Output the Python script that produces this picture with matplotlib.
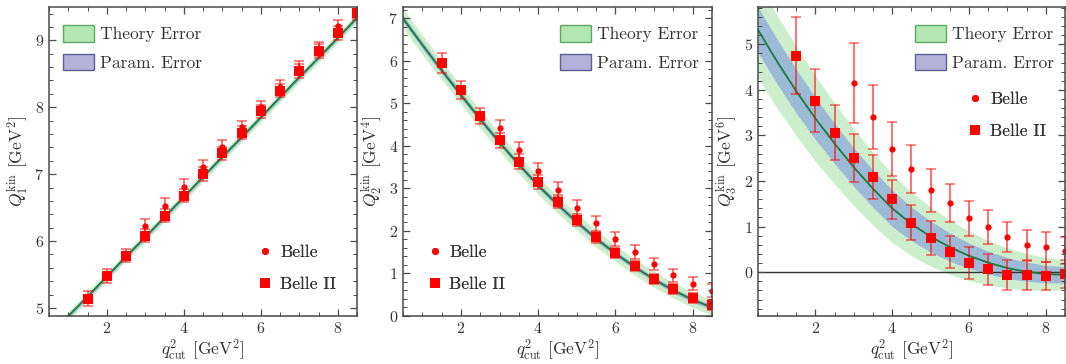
import numpy as np
import matplotlib
matplotlib.use("Agg")
import matplotlib.pyplot as plt
from matplotlib.patches import Patch
from matplotlib.lines import Line2D
from matplotlib.ticker import MultipleLocator

plt.rcParams['font.family'] = 'cmr10'
plt.rcParams['mathtext.fontset'] = 'cm'
plt.rcParams['axes.unicode_minus'] = False
plt.rcParams['axes.formatter.use_mathtext'] = True

# q2 cut values
x_theory = [0.5, 1.0, 1.5, 2.0, 2.5, 3.0, 3.5, 4.0, 4.5, 5.0, 5.5, 6.0, 6.5, 7.0, 7.5, 8.0, 8.5]
x_belle2 = [1.5, 2.0, 2.5, 3.0, 3.5, 4.0, 4.5, 5.0, 5.5, 6.0, 6.5, 7.0, 7.5, 8.0, 8.5]
x_belle = [3.0, 3.5, 4.0, 4.5, 5.0, 5.5, 6.0, 6.5, 7.0, 7.5, 8.0, 8.5]

#%% Q1
q1_th = [4.58, 4.88, 5.17, 5.47, 5.77, 6.06, 6.36, 6.66, 6.96, 7.26, 7.55, 7.85, 8.15, 8.45, 8.74, 9.04, 9.34]
q1_th_err = [0.07] * 17
q1_par_err = [0.03] * 17
q1_belle2 = [5.14, 5.48, 5.78, 6.08, 6.38, 6.68, 7.00, 7.31, 7.62, 7.94, 8.25, 8.54, 8.84, 9.11, 9.41]
q1_belle2_err = [0.11, 0.10, 0.10, 0.10, 0.10, 0.10, 0.10, 0.10, 0.10, 0.10, 0.10, 0.10, 0.10, 0.10, 0.10]
q1_belle = [6.22, 6.53, 6.81, 7.11, 7.41, 7.70, 8.00, 8.30, 8.59, 8.87, 9.21, 9.43]
q1_belle_err = [0.11, 0.11, 0.11, 0.10, 0.10, 0.10, 0.10, 0.10, 0.10, 0.10, 0.10, 0.10]

#%% Q2
q2_th = [7.00, 6.38, 5.78, 5.20, 4.63, 4.08, 3.56, 3.07, 2.62, 2.21, 1.82, 1.47, 1.15, 0.86, 0.60, 0.38, 0.20]
q2_th_err = [0.23, 0.23, 0.22, 0.22, 0.22, 0.21, 0.21, 0.21, 0.20, 0.20, 0.20, 0.19, 0.19, 0.19, 0.18, 0.18, 0.18]
q2_par_err = [0.08, 0.08, 0.08, 0.08, 0.08, 0.07, 0.07, 0.07, 0.07, 0.07, 0.07, 0.06, 0.06, 0.06, 0.06, 0.06, 0.06]
q2_belle2 = [5.95, 5.31, 4.70, 4.13, 3.63, 3.15, 2.69, 2.26, 1.85, 1.48, 1.17, 0.87, 0.63, 0.42, 0.26]
q2_belle2_err = [0.24, 0.21, 0.19, 0.18, 0.17, 0.16, 0.15, 0.14, 0.13, 0.12, 0.12, 0.11, 0.11, 0.11, 0.11]
q2_belle = [4.43, 3.91, 3.41, 2.97, 2.54, 2.18, 1.81, 1.51, 1.22, 0.96, 0.76, 0.59]
q2_belle_err = [0.19, 0.19, 0.19, 0.18, 0.18, 0.17, 0.17, 0.16, 0.15, 0.15, 0.15, 0.15]

#%% Q3
q3_th = [5.32, 4.62, 3.97, 3.37, 2.82, 2.30, 1.83, 1.40, 1.06, 0.78, 0.55, 0.36, 0.21, 0.09, 0.01, -0.04, -0.06]
q3_th_err = [1.05, 1.02, 0.98, 0.94, 0.89, 0.84, 0.80, 0.75, 0.70, 0.65, 0.60, 0.54, 0.49, 0.44, 0.40, 0.36, 0.33]
q3_par_err = [0.50, 0.49, 0.48, 0.46, 0.44, 0.42, 0.41, 0.40, 0.37, 0.34, 0.31, 0.28, 0.25, 0.23, 0.21, 0.19, 0.18]
q3_belle2 = [4.75, 3.76, 3.06, 2.51, 2.09, 1.60, 1.09, 0.75, 0.45, 0.20, 0.07, -0.06, -0.07, -0.08, -0.04]
q3_belle2_err = [0.84, 0.69, 0.60, 0.53, 0.49, 0.43, 0.38, 0.37, 0.35, 0.35, 0.34, 0.33, 0.32, 0.30, 0.30]
q3_belle = [4.15, 3.41, 2.70, 2.26, 1.80, 1.52, 1.18, 0.99, 0.77, 0.60, 0.55, 0.47]
q3_belle_err = [0.87, 0.70, 0.60, 0.52, 0.47, 0.42, 0.39, 0.37, 0.33, 0.33, 0.33, 0.30]

GREEN_BAND = (0.50, 0.84, 0.50, 0.40)
BLUE_BAND = (0.44, 0.55, 0.88, 0.52)
LINE_GREEN = '#1c7a3c'
RED = '#ff0000'
FRAME = '#4a4a4a'


def draw_panel(ax, th, th_err, par_err, b2, b2_err, b1, b1_err):
    xt = np.array(x_theory)
    th = np.array(th)
    ax.fill_between(xt, th - np.array(th_err), th + np.array(th_err), color=GREEN_BAND, lw=0)
    ax.fill_between(xt, th - np.array(par_err), th + np.array(par_err), color=BLUE_BAND, lw=0)
    ax.plot(xt, th, color=LINE_GREEN, lw=1.3)

    ax.errorbar(x_belle, b1, yerr=b1_err, fmt='none', ecolor=(1, 0, 0, 0.6),
                elinewidth=1.3, capsize=3.5, capthick=1.1)
    ax.errorbar(x_belle2, b2, yerr=b2_err, fmt='none', ecolor=(1, 0, 0, 0.6),
                elinewidth=1.3, capsize=3.5, capthick=1.1)
    ax.plot(x_belle, b1, 'o', color=RED, ms=4.5, mew=0)
    ax.plot(x_belle2, b2, 's', color=RED, ms=7, mew=0)

    ax.set_xlim(0.5, 8.5)
    ax.xaxis.set_major_locator(MultipleLocator(2))
    ax.xaxis.set_minor_locator(MultipleLocator(0.5))
    ax.yaxis.set_major_locator(MultipleLocator(1))
    ax.yaxis.set_minor_locator(MultipleLocator(0.2))
    ax.tick_params(which='both', direction='in', top=True, right=True,
                   color=FRAME, labelcolor='#333333', labelsize=11.5)
    ax.tick_params(which='major', length=5, width=0.9)
    ax.tick_params(which='minor', length=3, width=0.7)
    for s in ax.spines.values():
        s.set_color(FRAME)
        s.set_linewidth(1.1)
    ax.set_xlabel(r'$q^2_{\mathrm{cut}}$ [GeV$^2$]', fontsize=12.5, color='#333333', labelpad=1)


def error_legend(ax, x, y):
    handles = [Patch(facecolor='#b3e6b3', edgecolor='#5fa85f', lw=1.0),
               Patch(facecolor='#b1b3d9', edgecolor='#5c5e94', lw=1.0)]
    leg = ax.legend(handles, ['Theory Error', 'Param. Error'], loc='upper left',
                    bbox_to_anchor=(x, y), frameon=False, fontsize=12.5,
                    handlelength=1.8, handleheight=1.05, handletextpad=0.35,
                    labelspacing=0.65, borderpad=0, borderaxespad=0)
    for t in leg.get_texts():
        t.set_color('#333333')
    ax.add_artist(leg)


def data_legend(ax, x, y):
    handles = [Line2D([], [], ls='none', marker='o', color=RED, ms=5, mew=0),
               Line2D([], [], ls='none', marker='s', color=RED, ms=7, mew=0)]
    leg = ax.legend(handles, ['Belle', 'Belle II'], loc='upper left',
                    bbox_to_anchor=(x, y), frameon=False, fontsize=12.5,
                    handlelength=0.8, handletextpad=0.45, labelspacing=0.95,
                    borderpad=0, borderaxespad=0)
    for t in leg.get_texts():
        t.set_color('#333333')
    ax.add_artist(leg)


fig = plt.figure(figsize=(10.66, 3.64), dpi=100)
ax1 = fig.add_axes([0.046, 0.132, 0.289, 0.849])
ax2 = fig.add_axes([0.378, 0.132, 0.290, 0.849])
ax3 = fig.add_axes([0.711, 0.132, 0.288, 0.849])

draw_panel(ax1, q1_th, q1_th_err, q1_par_err, q1_belle2, q1_belle2_err, q1_belle, q1_belle_err)
ax1.set_ylim(4.88, 9.5)
ax1.set_ylabel(r'$Q_1^{\mathrm{kin}}$ [GeV$^2$]', fontsize=12.5, color='#333333', labelpad=3)
error_legend(ax1, 0.045, 0.94)
data_legend(ax1, 0.68, 0.23)

draw_panel(ax2, q2_th, q2_th_err, q2_par_err, q2_belle2, q2_belle2_err, q2_belle, q2_belle_err)
ax2.set_ylim(0.0, 7.27)
ax2.set_ylabel(r'$Q_2^{\mathrm{kin}}$ [GeV$^4$]', fontsize=12.5, color='#333333', labelpad=3)
error_legend(ax2, 0.508, 0.94)
data_legend(ax2, 0.08, 0.23)

draw_panel(ax3, q3_th, q3_th_err, q3_par_err, q3_belle2, q3_belle2_err, q3_belle, q3_belle_err)
ax3.axhline(0, color='#333333', lw=1.0, zorder=1.5)
ax3.set_ylim(-0.96, 5.82)
ax3.set_ylabel(r'$Q_3^{\mathrm{kin}}$ [GeV$^6$]', fontsize=12.5, color='#333333', labelpad=3)
error_legend(ax3, 0.511, 0.94)
data_legend(ax3, 0.685, 0.725)

fig.savefig("out.png", dpi=100)
